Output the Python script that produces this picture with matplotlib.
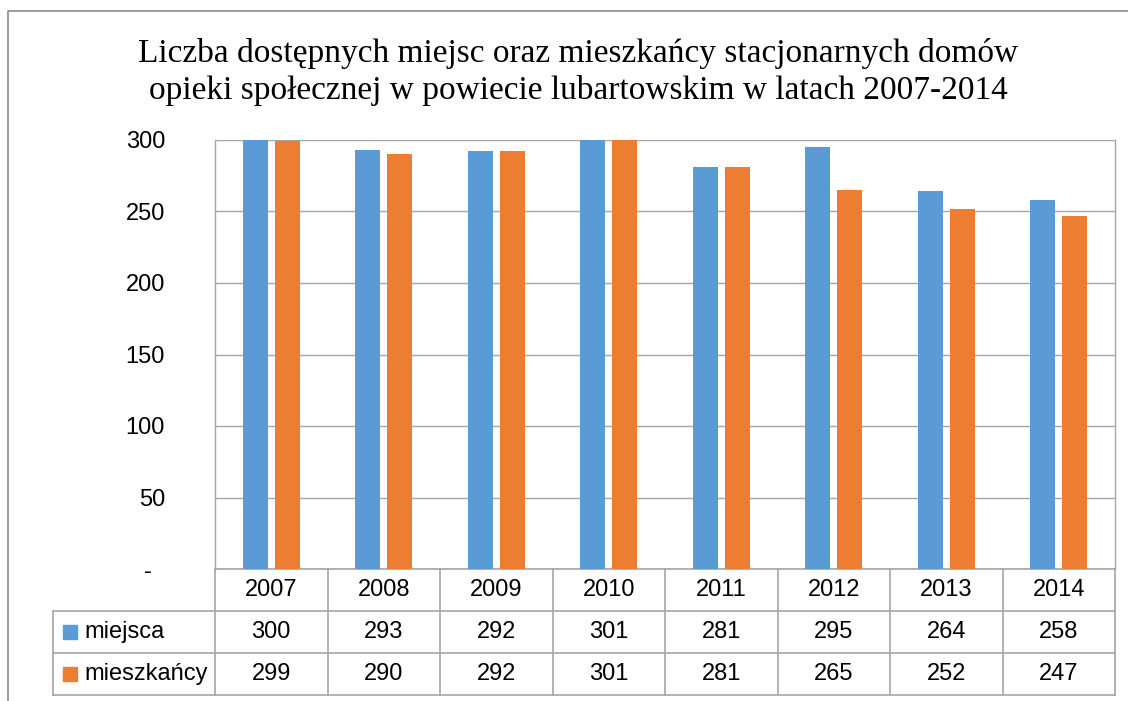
import matplotlib
matplotlib.use("Agg")
import matplotlib.pyplot as plt
from matplotlib.transforms import blended_transform_factory
from matplotlib.lines import Line2D
from matplotlib.patches import Rectangle

years = ["2007", "2008", "2009", "2010", "2011", "2012", "2013", "2014"]
miejsca = [300, 293, 292, 301, 281, 295, 264, 258]
mieszkancy = [299, 290, 292, 301, 281, 265, 252, 247]
series_names = ["miejsca", "mieszkańcy"]
colors = ["#5B9BD5", "#ED7D31"]
yticks = [0, 50, 100, 150, 200, 250, 300]
yticklabels = ["-  ", "50", "100", "150", "200", "250", "300"]
title = ("Liczba dostępnych miejsc oraz mieszkańcy stacjonarnych domów\n"
         "opieki społecznej w powiecie lubartowskim w latach 2007-2014")

W, H = 1128, 701
SANS = "Liberation Sans"
GRID = "#A6A6A6"

fig = plt.figure(figsize=(W / 100, H / 100), dpi=100)

# Overlay axes in pixel coords
ov = fig.add_axes([0, 0, 1, 1], zorder=0)
ov.set_xlim(0, W)
ov.set_ylim(H, 0)
ov.axis("off")

# Outer chart frame (cropped on the right and bottom)
ov.add_line(Line2D([8, 8, W], [H, 11, 11], color="#8C8C8C", lw=1.2))

# Main plot
L, R, T, B = 215, 1115, 140, 569
ax = fig.add_axes([L / W, 1 - B / H, (R - L) / W, (B - T) / H], zorder=1)
ax.patch.set_alpha(0)
x = list(range(len(years)))
bw = 0.22
off = 0.142
ax.bar([i - off for i in x], miejsca, width=bw, color=colors[0], zorder=3)
ax.bar([i + off for i in x], mieszkancy, width=bw, color=colors[1], zorder=3)
ax.set_xlim(-0.5, len(years) - 0.5)
ax.set_ylim(0, 300)
ax.set_yticks(yticks)
ax.set_yticklabels(yticklabels, fontsize=17, family=SANS)
ax.tick_params(axis="y", length=0, pad=36)
ax.set_xticks([])
ax.grid(axis="y", color=GRID, lw=1, zorder=0)
for s in ["top", "bottom"]:
    ax.spines[s].set_visible(False)
for s in ["left", "right"]:
    ax.spines[s].set_color(GRID)
    ax.spines[s].set_linewidth(1)

fig.text(578 / W, 1 - 72 / H, title, ha="center", va="center",
         fontsize=24, family="Liberation Serif", linespacing=1.22)

# Data table
tr = blended_transform_factory(ax.transData, ov.transData)
rows_y = [569, 611, 653, 695]
TL = 53
# horizontal lines
ov.add_line(Line2D([L, R], [569, 569], color=GRID, lw=1.2))
for yy in rows_y[1:]:
    ov.add_line(Line2D([TL, R], [yy, yy], color=GRID, lw=1.2))
# vertical lines
ov.add_line(Line2D([TL, TL], [611, 695], color=GRID, lw=1.2))
for i in range(len(years) + 1):
    ax_x = i - 0.5
    ov.add_line(Line2D([ax_x, ax_x], [569, 695], color=GRID, lw=1.2,
                       transform=tr))
# header
for i, yr in enumerate(years):
    ov.text(i, 590, yr, transform=tr, ha="center", va="center",
            fontsize=17, family=SANS)
for r, (vals, name, col) in enumerate(zip([miejsca, mieszkancy], series_names, colors)):
    yc = 632 + 42 * r
    ov.add_patch(Rectangle((63, yc - 7), 14, 14, color=col))
    ov.text(84, yc, name, ha="left", va="center", fontsize=17, family=SANS)
    for i, v in enumerate(vals):
        ov.text(i, yc, str(v), transform=tr, ha="center", va="center",
                fontsize=17, family=SANS)

fig.savefig("out.png", dpi=100)
